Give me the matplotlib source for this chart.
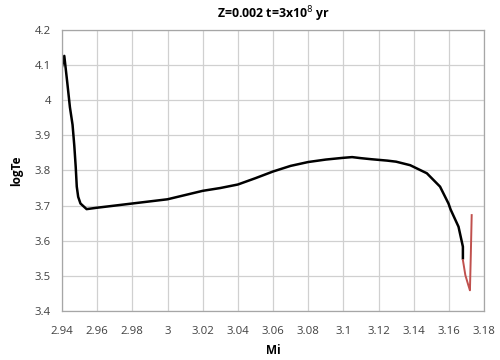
import matplotlib.pyplot as plt

# main track (black)
mi_main = [2.9400, 2.9413, 2.9430, 2.9445, 2.9460, 2.9470, 2.9478, 2.9484, 2.9492,
           2.9505, 2.9540,
           2.9600, 2.9700, 2.9800, 2.9900, 3.0000, 3.0100, 3.0200, 3.0300, 3.0400,
           3.0500, 3.0600, 3.0700, 3.0800, 3.0900, 3.1000, 3.1050, 3.1100, 3.1159,
           3.1250, 3.1300, 3.1380, 3.1475, 3.1550, 3.1598, 3.1610, 3.1655, 3.1680,
           3.1680]
logte_main = [4.095, 4.126, 4.050, 3.980, 3.930, 3.870, 3.810, 3.754, 3.725,
              3.706, 3.690,
              3.694, 3.700, 3.706, 3.712, 3.718, 3.730, 3.742, 3.750, 3.760,
              3.778, 3.797, 3.813, 3.824, 3.831, 3.836, 3.838, 3.835, 3.832,
              3.828, 3.825, 3.815, 3.792, 3.754, 3.706, 3.689, 3.640, 3.583,
              3.550]

# last part (red)
mi_end = [3.1680, 3.1694, 3.1710, 3.1720, 3.1725, 3.1730]
logte_end = [3.545, 3.502, 3.475, 3.459, 3.560, 3.673]

xticks = [2.94, 2.96, 2.98, 3.0, 3.02, 3.04, 3.06, 3.08, 3.1, 3.12, 3.14, 3.16, 3.18]
xticklabels = ['2.94', '2.96', '2.98', '3', '3.02', '3.04', '3.06', '3.08', '3.1',
               '3.12', '3.14', '3.16', '3.18']
yticks = [3.4, 3.5, 3.6, 3.7, 3.8, 3.9, 4.0, 4.1, 4.2]
yticklabels = ['3.4', '3.5', '3.6', '3.7', '3.8', '3.9', '4', '4.1', '4.2']

plt.rcParams['font.family'] = ['Open Sans', 'DejaVu Sans']

fig = plt.figure(figsize=(5, 3.6), dpi=100)
ax = fig.add_axes([0.124, 0.136, 0.844, 0.781])
ax.plot(mi_main, logte_main, color='black', lw=1.8, solid_joinstyle='round')
ax.plot(mi_end, logte_end, color='#c0504d', lw=1.4)

ax.set_xlim(2.94, 3.18)
ax.set_ylim(3.4, 4.2)
ax.set_xticks(xticks)
ax.set_xticklabels(xticklabels)
ax.set_yticks(yticks)
ax.set_yticklabels(yticklabels)
ax.tick_params(length=0, labelsize=8.2, colors='#404040')
ax.tick_params(axis='x', pad=11)
ax.tick_params(axis='y', pad=8)
ax.grid(True, color='#d0d0d0', lw=0.9)
ax.set_axisbelow(True)
for s in ax.spines.values():
    s.set_color('#a6a6a6')
    s.set_linewidth(0.9)

ax.set_title('Z=0.002 t=3x10$^{8}$ yr', fontsize=8.8, fontweight='bold', pad=8)
ax.set_xlabel('Mi', fontsize=8.5, fontweight='bold', labelpad=5)
ax.set_ylabel('logTe', fontsize=8.5, fontweight='bold', labelpad=8)

plt.savefig('out.png')
plt.close()
